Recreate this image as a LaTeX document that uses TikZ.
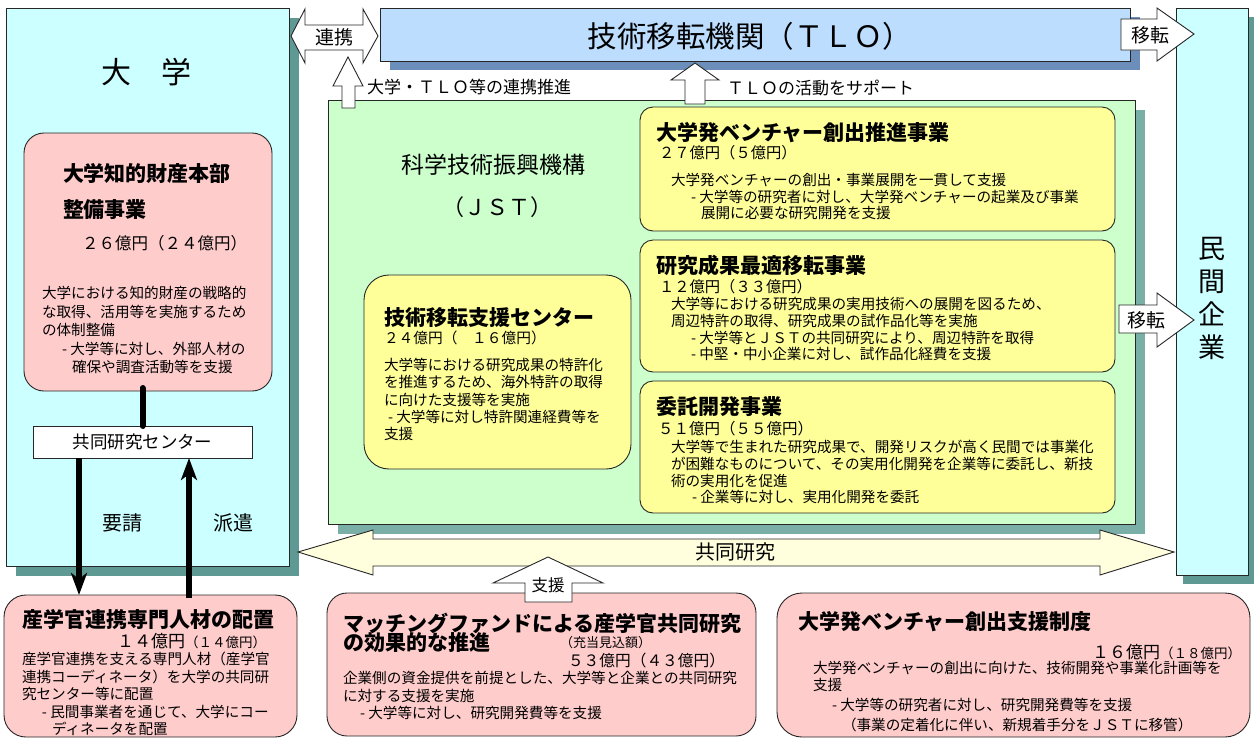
\documentclass[tikz,border=0pt]{standalone}
\usepackage{fontspec}
\setmainfont{Noto Sans CJK JP}
\usetikzlibrary{shadows,arrows.meta,calc}
\definecolor{cyanbox}{HTML}{CCFFFF}
\definecolor{univshadow}{HTML}{5F9994}
\definecolor{tlobox}{HTML}{BCDDFE}
\definecolor{tloshadow}{HTML}{6C8EBA}
\definecolor{greenbox}{HTML}{CCFFCC}
\definecolor{greenshadow}{HTML}{7AAFA8}
\definecolor{yellowbox}{HTML}{FFFF99}
\definecolor{pinkbox}{HTML}{FFCCCC}
\definecolor{arrowyellow}{HTML}{FFFFDD}
\newcommand\jfs[2]{\fontsize{#1}{#2}\selectfont}
\begin{document}
\begin{tikzpicture}[x=1pt,y=-1pt,
 frame/.style={draw=black!85,line width=0.9pt,inner sep=0pt,outer sep=0pt,anchor=north west},
 sh/.style={drop shadow={shadow xshift=10pt,shadow yshift=-10pt,fill=#1,opacity=1}},
 lbl/.style={inner sep=0pt,outer sep=0pt,align=left,anchor=west},
 lbltop/.style={inner sep=0pt,outer sep=0pt,align=left,anchor=north west},
 lblc/.style={inner sep=0pt,outer sep=0pt,align=center},
 titlef/.style={font=\bfseries\jfs{21}{24}},
 bodyf/.style={font=\jfs{14.6}{#1}},
 blockarrow/.style={draw=black!85,line width=0.9pt,fill=white,line join=miter},
 thickline/.style={line width=6pt,black,line cap=round},
 thickarrow/.style={line width=6pt,black,-{Stealth[length=22pt,width=16pt,inset=6pt]}},
]
\useasboundingbox (0,0) rectangle (1254,740);
\fill[white] (0,0) rectangle (1254,740);

% big boxes
\node[frame,fill=cyanbox,sh=univshadow,minimum width=283pt,minimum height=558pt] (univ) at (6,8) {};
\node[frame,fill=cyanbox,drop shadow={shadow xshift=7pt,shadow yshift=-9pt,fill=univshadow,opacity=1},minimum width=72pt,minimum height=567pt] (minkan) at (1176,8) {};
\node[frame,fill=tlobox,drop shadow={shadow xshift=10pt,shadow yshift=-9pt,fill=tloshadow,opacity=1},minimum width=750pt,minimum height=53pt,font=\jfs{29}{32}] (tlo) at (380,8) {};
\node[lblc,font=\jfs{29.5}{32}] (tlotitle) at (750,36) {技術移転機関（ＴＬＯ）};
\node[frame,fill=greenbox,sh=greenshadow,minimum width=807pt,minimum height=424pt] (jst) at (328,100) {};

% university contents
\node[lblc,font=\jfs{30}{32}] (univtitle) at (146,72) {大　学};
\node[frame,fill=pinkbox,rounded corners=20pt,minimum width=248pt,minimum height=258pt] (chizai) at (24,133) {};
\node[lbl,titlef] (chizaiT1) at (63,173) {大学知的財産本部};
\node[lbl,titlef] (chizaiT2) at (63,210) {整備事業};
\node[lbl,font=\jfs{16.5}{18}] (chizaiA) at (82,243) {２６億円（２４億円）};
\node[lbltop,bodyf=18.5] (chizaiB) at (42,286.4) {大学における知的財産の戦略的\\な取得、活用等を実施するため\\の体制整備\\\hspace*{20pt}- 大学等に対し、外部人材の\\\hspace*{30pt}確保や調査活動等を支援};
\node[frame,fill=white,anchor=center,minimum width=219pt,minimum height=32pt,font=\jfs{17.5}{19}] (kyodo) at (142.5,442) {共同研究センター};
\node[lblc,font=\jfs{20}{22}] (yosei) at (122,523) {要請};
\node[lblc,font=\jfs{20}{22}] (haken) at (233,523) {派遣};

% minkan
\node[lblc,font=\jfs{27}{33}] (minkanT) at (1212,298) {民\\間\\企\\業};

% JST contents
\node[lblc,font=\jfs{23}{25}] (jstT1) at (493,165) {科学技術振興機構};
\node[lblc,font=\jfs{22}{24}] (jstT2) at (497,207) {（ＪＳＴ）};

\node[frame,fill=yellowbox,rounded corners=25pt,minimum width=267pt,minimum height=194pt] (shien) at (364,275) {};
\node[lbl,titlef] (shienT) at (384,318) {技術移転支援センター};
\node[lbl,font=\jfs{14.7}{17}] (shienA) at (384,338) {２４億円（　１６億円）};
\node[lbltop,bodyf=17.2] (shienB) at (384,358.4) {大学等における研究成果の特許化\\を推進するため、海外特許の取得\\に向けた支援等を実施\\\hspace*{4pt}- 大学等に対し特許関連経費等を\\支援};

\node[frame,fill=yellowbox,rounded corners=13pt,minimum width=475pt,minimum height=124pt] (v1) at (640,107) {};
\node[lbl,titlef] (v1T) at (656,133) {大学発ベンチャー創出推進事業};
\node[lbl,font=\jfs{15.3}{17}] (v1A) at (659,153) {２７億円（５億円）};
\node[lbltop,bodyf=16.5] (v1B) at (671,173.4) {大学発ベンチャーの創出・事業展開を一貫して支援\\\hspace*{20pt}- 大学等の研究者に対し、大学発ベンチャーの起業及び事業\\\hspace*{30pt}展開に必要な研究開発を支援};

\node[frame,fill=yellowbox,rounded corners=13pt,minimum width=475pt,minimum height=132pt] (v2) at (640,240) {};
\node[lbl,titlef] (v2T) at (656,265) {研究成果最適移転事業};
\node[lbl,font=\jfs{15.3}{17}] (v2A) at (659,287) {１２億円（３３億円）};
\node[lbltop,bodyf=16.7] (v2B) at (671,297.4) {大学等における研究成果の実用技術への展開を図るため、\\周辺特許の取得、研究成果の試作品化等を実施\\\hspace*{20pt}- 大学等とＪＳＴの共同研究により、周辺特許を取得\\\hspace*{20pt}- 中堅・中小企業に対し、試作品化経費を支援};

\node[frame,fill=yellowbox,rounded corners=13pt,minimum width=475pt,minimum height=132pt] (v3) at (640,381) {};
\node[lbl,titlef] (v3T) at (656,407) {委託開発事業};
\node[lbl,font=\jfs{15.5}{17}] (v3A) at (658,429) {５１億円（５５億円）};
\node[lbltop,bodyf=16.7] (v3B) at (671,440.4) {大学等で生まれた研究成果で、開発リスクが高く民間では事業化\\が困難なものについて、その実用化開発を企業等に委託し、新技\\術の実用化を促進\\\hspace*{21pt}- 企業等に対し、実用化開発を委託};

% bottom pink boxes
\node[frame,fill=pinkbox,rounded corners=22pt,minimum width=293pt,minimum height=142pt] (sangaku) at (4,595) {};
\node[lbl,titlef] (sangakuT) at (23,619) {産学官連携専門人材の配置};
\node[lbl] (sangakuA) at (117,641) {{\jfs{17}{20}１４億円}{\jfs{13.5}{16}（１４億円）}};
\node[lbltop,bodyf=17.5] (sangakuB) at (22,652.4) {産学官連携を支える専門人材（産学官\\連携コーディネータ）を大学の共同研\\究センター等に配置\\\hspace*{20pt}- 民間事業者を通じて、大学にコー\\\hspace*{30pt}ディネータを配置};

\node[frame,fill=pinkbox,rounded corners=20pt,minimum width=429pt,minimum height=143pt] (matching) at (327,593) {};
\node[lbl,titlef] (matchT1) at (343,623) {マッチングファンドによる産学官共同研究};
\node[lbl,titlef] (matchT2) at (343,643) {の効果的な推進};
\node[lbl,font=\jfs{13}{15}] (matchN) at (560,643) {（充当見込額）};
\node[lbl,font=\jfs{15.7}{17}] (matchA) at (568,661) {５３億円（４３億円）};
\node[lbltop,bodyf=17.5] (matchB) at (343,671.4) {企業側の資金提供を前提とした、大学等と企業との共同研究\\に対する支援を実施\\\hspace*{17pt}- 大学等に対し、研究開発費等を支援};

\node[frame,fill=pinkbox,rounded corners=25pt,minimum width=473pt,minimum height=144pt] (venture) at (777,593) {};
\node[lbl,titlef] (ventureT) at (798,622) {大学発ベンチャー創出支援制度};
\node[lbl] (ventureA) at (1092,652) {{\jfs{17}{20}１６億円}{\jfs{13.5}{16}（１８億円）}};
\node[lbltop,bodyf=17] (ventureB) at (813,661.4) {大学発ベンチャーの創出に向けた、技術開発や事業化計画等を\\支援};
\node[lbltop,bodyf=20] (ventureC) at (832,698.4) {- 大学等の研究者に対し、研究開発費等を支援\\\hspace*{10pt}（事業の定着化に伴い、新規着手分をＪＳＴに移管）};

% block arrows
\draw[blockarrow] (291,36) -- (305,9) -- (305,25) -- (363,25) -- (363,9) -- (378,36) -- (363,63) -- (363,50) -- (305,50) -- (305,63) -- cycle;
\node[lblc,font=\jfs{19}{21}] (renkei) at (334,37) {連携};
\draw[blockarrow] (348,57) -- (363,86) -- (355,86) -- (355,108) -- (342,108) -- (342,86) -- (333,86) -- cycle;
\node[lbl,font=\jfs{17}{19}] (renkeiL) at (367,87) {大学・ＴＬＯ等の連携推進};
\draw[blockarrow] (695,63) -- (719,80) -- (705,80) -- (705,104) -- (685,104) -- (685,80) -- (671,80) -- cycle;
\node[lbl,font=\jfs{17}{19}] (supportL) at (727,88) {ＴＬＯの活動をサポート};
\draw[blockarrow] (1121,19) -- (1157,19) -- (1157,8) -- (1194,34) -- (1157,61) -- (1157,50) -- (1121,50) -- cycle;
\node[lblc,font=\jfs{19}{21}] (iten1) at (1150,35) {移転};
\draw[blockarrow] (1119,305) -- (1157,305) -- (1157,293) -- (1194,320) -- (1157,347) -- (1157,333) -- (1119,333) -- cycle;
\node[lblc,font=\jfs{19}{21}] (iten2) at (1146,320) {移転};
\draw[blockarrow,fill=arrowyellow] (298,552) -- (373,530) -- (373,539) -- (1100,539) -- (1100,530) -- (1174,552) -- (1100,575) -- (1100,566) -- (373,566) -- (373,575) -- cycle;
\node[lblc,font=\jfs{20}{22}] (kyodoL) at (735,552) {共同研究};
\draw[blockarrow] (548,557) -- (603,583) -- (572,583) -- (572,602) -- (525,602) -- (525,583) -- (493,583) -- cycle;
\node[lblc,font=\jfs{16.5}{18}] (shienL) at (548,585) {支援};

% thick connectors
\coordinate (dA) at (79,0);
\coordinate (uA) at (189,0);
\draw[thickline] (kyodo.north |- chizai.south) ++(0,-3) -- (kyodo.north);
\draw[thickarrow] (kyodo.south -| dA) -- (sangaku.north -| dA);
\draw[thickarrow] ($(sangaku.north -| uA)+(0,3)$) -- (kyodo.south -| uA);
\end{tikzpicture}
\end{document}
